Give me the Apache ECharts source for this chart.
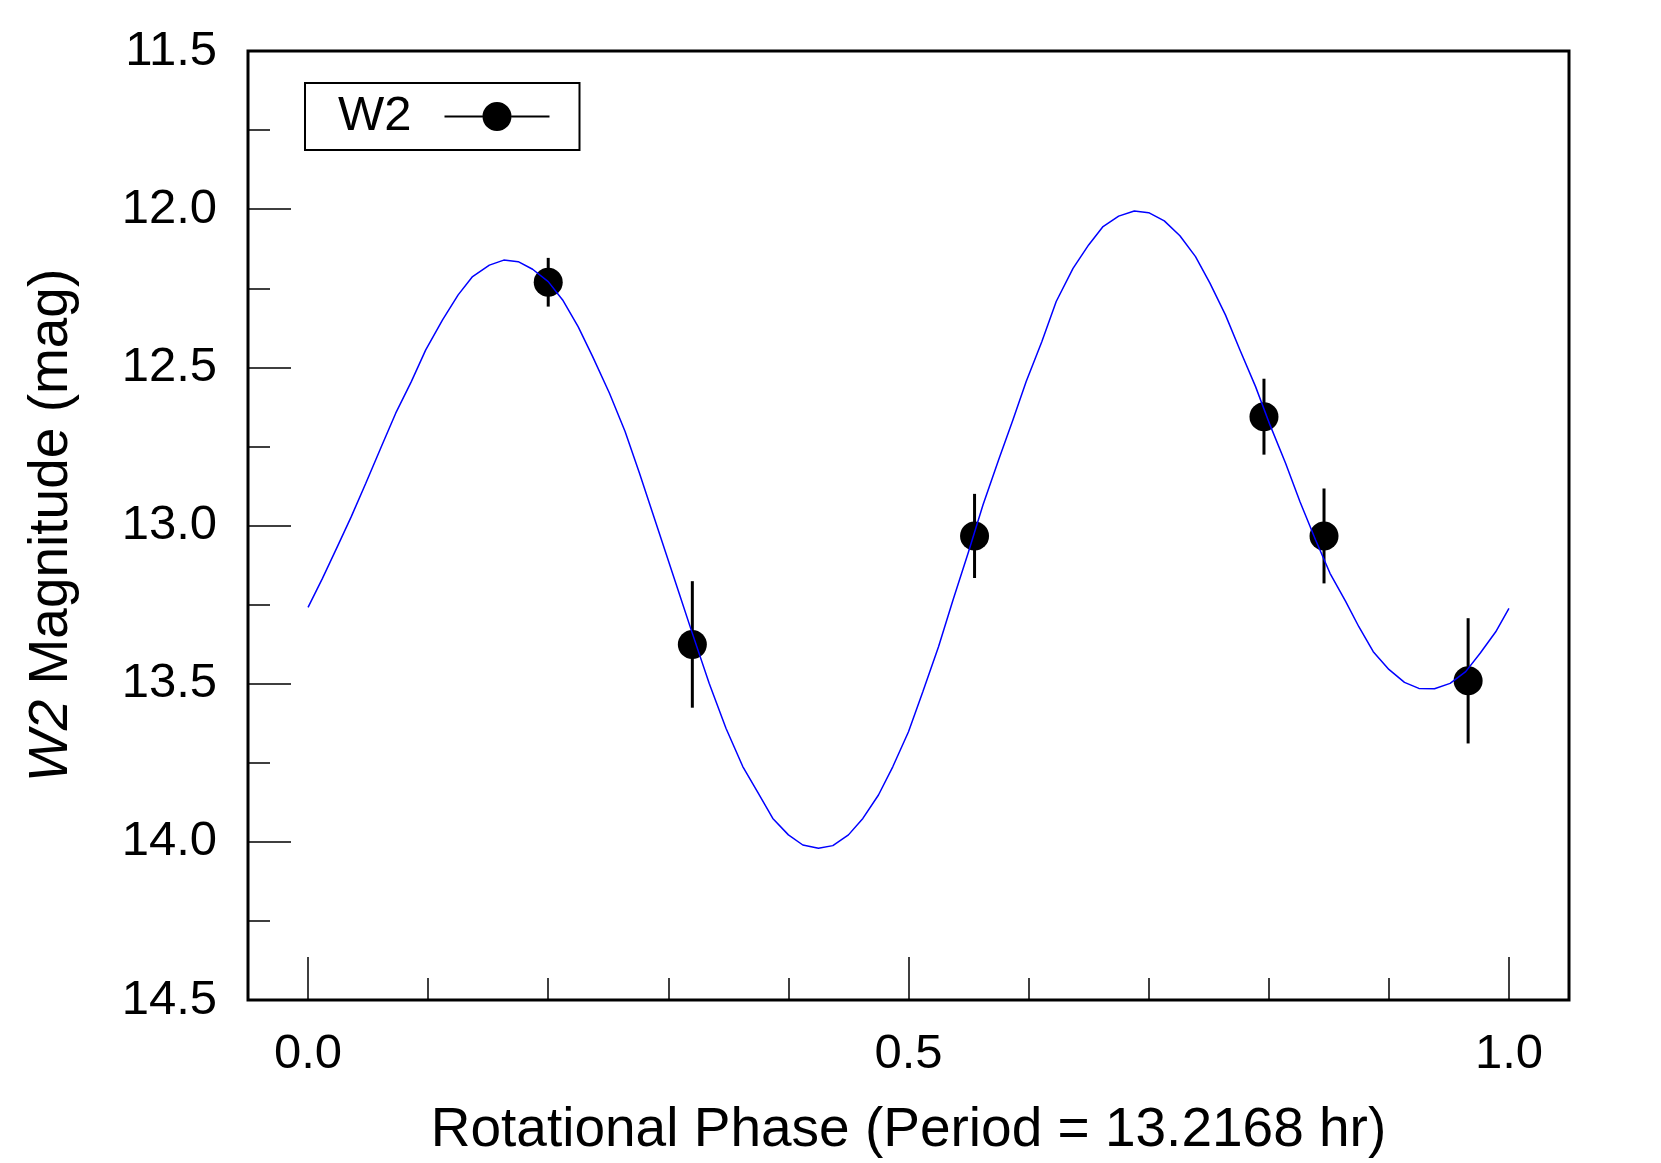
<!DOCTYPE html>
<html>
<head>
<meta charset="utf-8">
<script src="https://cdn.jsdelivr.net/npm/echarts@6/dist/echarts.min.js"></script>
<style>
  html, body { margin: 0; padding: 0; background: #fff; }
  #chart { width: 1661px; height: 1163px; }
</style>
</head>
<body>
<div id="chart"></div>
<script>
// ==============================
// data
// ==============================

// W2 measurements
const obsPhase = [0.200, 0.320, 0.555, 0.796, 0.846, 0.966];
const obsMag   = [12.231, 13.376, 13.033, 12.656, 13.033, 13.491];
const obsErr   = [0.077, 0.200, 0.133, 0.120, 0.150, 0.198];

// fitted lightcurve (blue line)
const fitPhase = [
  0.000, 0.012, 0.025, 0.036, 0.048, 0.061, 0.073, 0.086, 0.098, 0.112,
  0.125, 0.137, 0.151, 0.163, 0.175, 0.187, 0.200, 0.212, 0.225, 0.237,
  0.251, 0.264, 0.276, 0.287, 0.298, 0.309, 0.320, 0.334, 0.348, 0.362,
  0.375, 0.387, 0.400, 0.412, 0.425, 0.437, 0.450, 0.462, 0.475, 0.487,
  0.500, 0.512, 0.525, 0.537, 0.550, 0.562, 0.575, 0.587, 0.598, 0.611,
  0.623, 0.637, 0.650, 0.662, 0.675, 0.688, 0.700, 0.713, 0.726, 0.739,
  0.751, 0.764, 0.776, 0.789, 0.801, 0.814, 0.826, 0.839, 0.851, 0.864,
  0.875, 0.887, 0.900, 0.913, 0.925, 0.938, 0.951, 0.964, 0.976, 0.989,
  1.000
];
const fitMag = [
  13.259, 13.167, 13.062, 12.972, 12.867, 12.751, 12.645, 12.545, 12.445, 12.350,
  12.271, 12.213, 12.177, 12.161, 12.166, 12.190, 12.229, 12.287, 12.372, 12.466,
  12.582, 12.703, 12.835, 12.961, 13.088, 13.214, 13.341, 13.499, 13.641, 13.762,
  13.847, 13.926, 13.978, 14.010, 14.020, 14.012, 13.978, 13.926, 13.852, 13.762,
  13.652, 13.525, 13.383, 13.236, 13.083, 12.935, 12.793, 12.666, 12.545, 12.419,
  12.292, 12.187, 12.113, 12.055, 12.022, 12.006, 12.011, 12.037, 12.084, 12.150,
  12.234, 12.335, 12.445, 12.561, 12.682, 12.803, 12.925, 13.046, 13.151, 13.240,
  13.320, 13.399, 13.455, 13.496, 13.515, 13.516, 13.499, 13.462, 13.404, 13.336,
  13.262
];

// axis ticks
const xMajorTicks = [0, 0.5, 1];
const xMinorTicks = [0.1, 0.2, 0.3, 0.4, 0.6, 0.7, 0.8, 0.9];

const FONT = 'Liberation Sans, Arial, Helvetica, sans-serif';

// ==============================
// chart
// ==============================

const chart = echarts.init(document.getElementById('chart'), null, { renderer: 'canvas' });

const points = obsPhase.map((p, i) => [p, obsMag[i]]);
const errBars = obsPhase.map((p, i) => [p, obsMag[i], obsErr[i]]);
const fitLine = fitPhase.map((p, i) => [p, fitMag[i]]);

const xBase = {
  type: 'value',
  min: -0.05,
  max: 1.05,
  position: 'bottom',
  axisLine: { show: false, onZero: false },
  splitLine: { show: false }
};

chart.setOption({
  animation: false,
  backgroundColor: '#fff',
  grid: {
    left: 248,
    right: 92,
    top: 51,
    bottom: 163,
    show: true,
    borderColor: '#000',
    borderWidth: 3,
    backgroundColor: 'transparent'
  },
  legend: {
    left: 305,
    top: 83,
    orient: 'horizontal',
    align: 'right',
    borderColor: '#000',
    borderWidth: 2,
    padding: [9, 30, 9, 33],
    itemWidth: 105,
    itemHeight: 29,
    selectedMode: false,
    itemStyle: { opacity: 1 },
    textStyle: { fontFamily: FONT, fontSize: 49, color: '#000', padding: [0, 28, 0, 0] },
    data: [{
      name: 'W2',
      icon: 'path://M0,13.5H38V15.5H0Z M67,13.5H105V15.5H67Z M38,14.5A14.5,14.5 0 1,1 67,14.5A14.5,14.5 0 1,1 38,14.5Z'
    }]
  },
  xAxis: [
    Object.assign({}, xBase, {
      name: 'Rotational Phase (Period = 13.2168 hr)',
      nameLocation: 'middle',
      nameGap: 103,
      nameTextStyle: { fontFamily: FONT, fontSize: 55, color: '#000' },
      axisTick: {
        show: true, inside: true, length: 43, customValues: xMajorTicks,
        lineStyle: { color: '#000', width: 1.5 }
      },
      axisLabel: {
        customValues: xMajorTicks,
        margin: 30,
        fontFamily: FONT, fontSize: 49, color: '#000',
        formatter: v => v.toFixed(1)
      }
    }),
    Object.assign({}, xBase, {
      axisTick: {
        show: true, inside: true, length: 22, customValues: xMinorTicks,
        lineStyle: { color: '#000', width: 1.5 }
      },
      axisLabel: { show: false }
    })
  ],
  yAxis: {
    type: 'value',
    position: 'left',
    inverse: true,
    min: 11.5,
    max: 14.5,
    interval: 0.5,
    name: '{i|W2} Magnitude (mag)',
    nameLocation: 'middle',
    nameGap: 169,
    nameTextStyle: {
      fontFamily: FONT, fontSize: 55, color: '#000',
      rich: { i: { fontFamily: FONT, fontSize: 55, fontStyle: 'italic', color: '#000' } }
    },
    axisLine: { show: false, onZero: false },
    splitLine: { show: false },
    axisTick: { show: true, inside: true, length: 43, lineStyle: { color: '#000', width: 1.5 } },
    minorTick: { show: true, splitNumber: 2, length: 22, lineStyle: { color: '#000', width: 1.5 } },
    axisLabel: {
      margin: 31,
      fontFamily: FONT, fontSize: 49, color: '#000',
      formatter: v => v.toFixed(1)
    }
  },
  series: [
    {
      name: 'errors',
      type: 'custom',
      z: 1,
      data: errBars,
      renderItem: (params, api) => {
        const x = api.value(0), y = api.value(1), e = api.value(2);
        const top = api.coord([x, y - e]);
        const bot = api.coord([x, y + e]);
        return {
          type: 'line',
          shape: { x1: top[0], y1: top[1], x2: bot[0], y2: bot[1] },
          style: { stroke: '#000', lineWidth: 3 }
        };
      }
    },
    {
      name: 'W2',
      type: 'scatter',
      z: 2,
      symbol: 'circle',
      symbolSize: 29,
      itemStyle: { color: '#000', opacity: 1 },
      data: points
    },
    {
      name: 'fit',
      type: 'line',
      z: 3,
      showSymbol: false,
      smooth: false,
      lineStyle: { color: '#0000ff', width: 1.5 },
      data: fitLine
    }
  ]
});
</script>
</body>
</html>
